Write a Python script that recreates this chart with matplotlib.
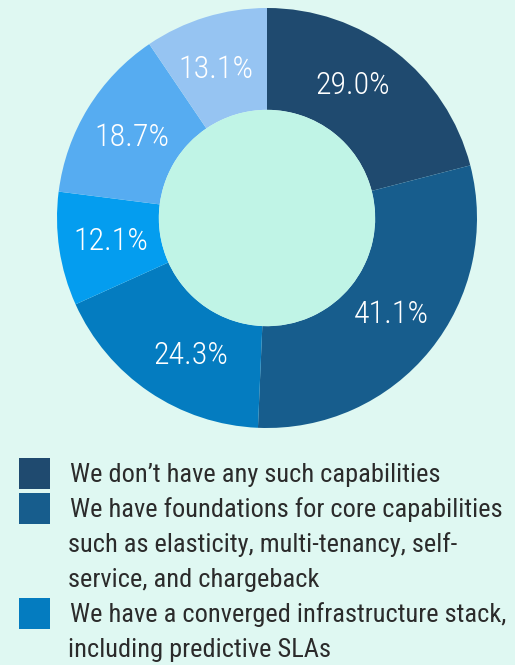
import matplotlib
matplotlib.use('Agg')
import matplotlib.pyplot as plt
from matplotlib.patches import Circle, Rectangle
from matplotlib import font_manager
import numpy as np

# data
values = [29.0, 41.1, 24.3, 12.1, 18.7, 13.1]
labels = ['29.0%', '41.1%', '24.3%', '12.1%', '18.7%', '13.1%']
colors = ['#1f4a6f', '#175d8d', '#047cc0', '#049def', '#56acf1', '#96c4f2']
legend_labels = [
    "We don\u2019t have any such capabilities",
    "We have foundations for core capabilities\nsuch as elasticity, multi-tenancy, self-\nservice, and chargeback",
    "We have a converged infrastructure stack,\nincluding predictive SLAs",
]
# small nudges of the label angle (degrees), as placed in the original
label_nudge = [-5, -1, -5, 0, -1, -2]

bg = '#dff8f2'
hole = '#c0f4e6'

names = {f.name for f in font_manager.fontManager.ttflist}
narrow = None
for n in ['Roboto Condensed', 'Liberation Sans Narrow', 'Open Sans Condensed']:
    if n in names:
        narrow = n
        break
if narrow:
    font = [narrow, 'DejaVu Sans']
    pct_size, leg_size = 23, 19
else:
    font = ['Liberation Sans', 'DejaVu Sans']
    pct_size, leg_size = 20, 16.8

fig = plt.figure(figsize=(5.15, 6.65), dpi=100)
fig.patch.set_facecolor(bg)

ax = fig.add_axes([57 / 515, 1 - 428 / 665, 420 / 515, 420 / 665])
ax.set_facecolor(bg)
wedges, texts = ax.pie(values, colors=colors, startangle=90, counterclock=False,
                       radius=1.0, wedgeprops=dict(width=0.485, linewidth=0))
ax.add_patch(Circle((0, 0), 0.515, facecolor=hole, edgecolor='none', zorder=3))

# percentage labels in the middle of the ring
total = sum(values)
start = 90.0
for v, lab, nud in zip(values, labels, label_nudge):
    mid = start - v / total * 360 / 2 - nud
    start -= v / total * 360
    r = 0.75
    x = r * np.cos(np.radians(mid))
    y = r * np.sin(np.radians(mid))
    ax.text(x, y, lab, ha='center', va='center', color='white',
            fontsize=pct_size, family=font, fontweight='light', zorder=4)

ax.set_xlim(-1, 1)
ax.set_ylim(-1, 1)
ax.set_aspect('equal')
ax.axis('off')

# legend drawn by hand (only the first three entries are visible)
line_h = 35
y_top = [458, 493, 598]
for i, lab in enumerate(legend_labels):
    y0 = y_top[i]
    fig.patches.append(Rectangle((19 / 515, 1 - (y0 + 31) / 665), 31 / 515, 31 / 665,
                                 transform=fig.transFigure, facecolor=colors[i],
                                 edgecolor='none'))
    for j, line in enumerate(lab.split('\n')):
        x = 70 if j == 0 else 68
        yc = y0 + 17 + j * line_h
        fig.text(x / 515, 1 - yc / 665, line, ha='left', va='center',
                 color='#2b2b2b', fontsize=leg_size, family=font)

fig.savefig('out.png', dpi=100, facecolor=bg)
